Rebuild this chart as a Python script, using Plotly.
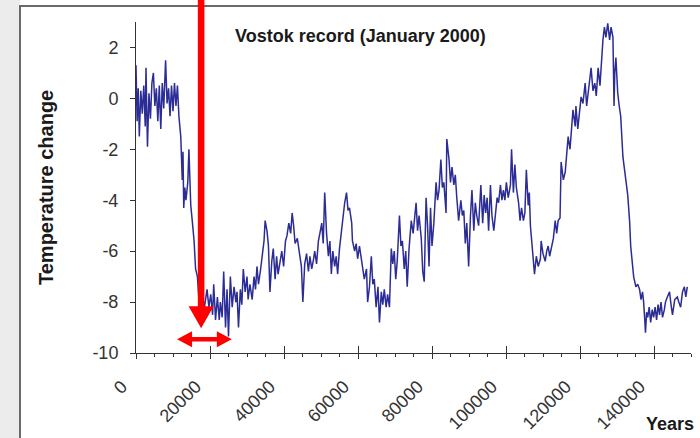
import plotly.graph_objects as go

# ---- data (years before present, temperature change in deg C) ----
years = [0, 300, 600, 900, 1300, 1700, 2100, 2500, 2700, 3100, 3500, 3900, 4300, 4700, 5100, 5500,
         5900, 6300, 6700, 7100, 7500, 8000, 8400, 8800, 9200, 9600, 10000, 10400, 10800, 11200, 11600,
         12100, 12500, 12700, 12900, 13200, 13500, 14000, 14300, 14800, 15200, 15700, 16100, 16600,
         17000, 17500, 18000, 18500, 19200, 19700, 20200, 20700, 21000, 21500, 22000, 22500, 22800,
         23300, 23700, 24200, 24600, 25000, 25500, 26000, 26500, 27000, 27300, 27700, 28200, 28600,
         29000, 29500, 30000, 30300, 30800, 31400, 31900, 32300, 32700, 33100, 33600, 34100, 34600,
         34900, 35400, 35800, 36200, 36700, 37100, 37600, 38000, 38400, 38900, 39400, 39900, 40400,
         40800, 41300, 41800, 42200, 42600, 43000, 43600, 44300, 44700, 45100, 45600, 46100, 46600,
         47000, 47500, 48000, 48300, 48800, 49300, 49700, 50200, 50600, 51000, 51500, 52000, 52400,
         52800, 53200, 53700, 54100, 54500, 55000, 55500, 56000, 56400, 56900, 57300, 57700, 58300,
         58500, 59100, 59500, 59900, 60400, 60900, 61200, 61700, 62300, 62600, 63100, 63600, 64000,
         64400, 64900, 65400, 65800, 66300, 66700, 67100, 67600, 68000, 68500, 69000, 69400, 69800,
         70200, 70600, 71200, 71600, 72000, 72500, 72900, 73300, 73800, 74400, 74900, 75300, 75700,
         76100, 76500, 77100, 77500, 77900, 78400, 78800, 79200, 79600, 80000, 80500, 81100, 81500,
         81900, 82400, 82800, 83200, 83800, 84000, 84600, 85000, 85400, 85900, 86300, 86700, 87200,
         87800, 88200, 88600, 89000, 89400, 89900, 90400, 90800, 91300, 91700, 92100, 92600, 93200,
         93700, 94100, 94500, 94900, 95300, 95800, 96200, 96700, 97200, 97600, 98000, 98500, 98900,
         99300, 99700, 100100, 100600, 101200, 101500, 102000, 102400, 102800, 103400, 103800, 104200,
         104700, 105100, 105500, 106000, 106300, 106600, 107000, 107400, 107700, 108200, 108700,
         109300, 109500, 110000, 110600, 111000, 111400, 111800, 112200, 112800, 113300, 113700,
         114100, 114600, 114900, 115500, 116000, 116300, 116800, 117300, 117600, 118100, 118700,
         118900, 119400, 120000, 120300, 120800, 121400, 121800, 122200, 122600, 123000, 123500,
         124000, 124400, 124900, 125400, 125800, 126200, 126600, 127000, 127500, 128000, 128400,
         128900, 129200, 129400, 129700, 130000, 130200, 130600, 131000, 131600, 132000, 132400,
         132900, 133400, 133700, 134100, 134500, 135100, 135600, 136100, 136500, 136900, 137200,
         137500, 137700, 138000, 138300, 138700, 139100, 139500, 139900, 140300, 140700, 141100,
         141500, 141900, 142300, 142800, 143100, 143600, 144200, 144600, 145000, 145600, 146300,
         146700, 147200, 147700, 148200, 148600, 149000]

temps = [1.3, -0.9, 0.4, -1.5, 0.3, -0.6, 0.5, -1.1, 1.2, -1.9, 0.2, -0.8, 0.6, 1.0, -0.3, 0.4,
         -0.9, 0.5, -1.2, 0.6, -0.4, 1.5, -0.2, 0.4, -0.7, 0.5, -0.5, 0.6, -0.3, 0.5, -0.7,
         -1.5, -3.2, -2.1, -4.3, -3.5, -4.0, -3.3, -2.0, -4.2, -4.8, -5.6, -6.7, -7.0,
         -7.9, -8.3, -7.8, -8.2, -7.5, -8.2, -7.7, -8.5, -7.3, -8.7, -7.8, -8.7, -8.0,
         -8.6, -6.8, -9.0, -7.5, -9.35, -7.0, -8.2, -7.4, -8.0, -7.6, -9.0, -7.5, -8.1,
         -6.7, -7.6, -7.0, -7.9, -7.3, -7.9, -7.0, -7.5, -6.6, -7.3, -6.8, -6.3, -5.6,
         -4.8, -5.2, -5.8, -7.6, -6.4, -5.9, -7.1, -6.2, -6.9, -6.4, -6.0, -6.6, -5.6,
         -5.4, -4.9, -5.3, -4.5, -5.0, -5.7, -5.5, -6.1, -6.6, -8.0, -6.5, -6.1, -6.8,
         -6.2, -6.7, -6.3, -6.0, -6.5, -5.6, -5.3, -4.9, -5.7, -3.7, -5.3, -6.2, -5.6,
         -6.9, -6.0, -6.6, -6.2, -6.9, -5.9, -5.2, -4.6, -4.1, -3.7, -4.4, -4.3, -4.9,
         -5.6, -6.0, -5.7, -6.3, -5.8, -6.3, -6.6, -7.1, -6.7, -8.0, -7.4, -6.2, -7.3,
         -7.1, -8.2, -7.4, -8.8, -7.6, -8.1, -7.5, -8.2, -7.7, -8.2, -5.9, -6.5, -6.0,
         -7.1, -6.4, -4.6, -5.8, -5.6, -6.7, -6.0, -7.4, -5.9, -4.8, -5.3, -4.6, -4.1,
         -5.2, -4.6, -5.5, -6.8, -7.2, -3.9, -5.0, -6.6, -4.3, -5.8, -4.9, -3.3, -4.0,
         -3.6, -2.4, -3.5, -3.3, -4.5, -1.6, -2.4, -3.3, -2.7, -3.4, -3.0, -3.9, -4.8,
         -4.0, -4.6, -4.4, -5.7, -4.9, -6.6, -4.6, -3.6, -5.2, -4.1, -4.6, -5.0, -3.4,
         -4.9, -3.8, -4.5, -3.9, -5.2, -3.4, -4.6, -5.2, -4.4, -3.9, -4.1, -3.4, -4.0,
         -3.6, -4.0, -3.3, -3.9, -3.4, -2.0, -3.7, -2.6, -3.5, -4.1, -4.8, -4.3,
         -4.8, -4.5, -2.8, -4.2, -3.7, -5.0, -5.8, -6.6, -6.9, -6.2, -6.6,
         -6.3, -5.6, -6.1, -6.4, -6.0, -5.8, -6.2, -5.9, -5.5, -4.8, -5.3,
         -4.8, -4.7, -2.5, -3.2, -2.9, -2.2, -1.5, -2.0, -1.5, -0.45, -1.1,
         -0.3, -1.2, -0.5, 0.06, -0.2, 0.6, -0.3, 0.3, 0.7, 1.2, 0.3,
         0.6, 0.1, 1.2, 0.5, 1.5, 2.3, 2.8, 2.4, 2.95, 2.3, 2.8,
         2.4, -0.3, 1.0, 1.6, 0.5, 0.2, -0.3, -0.7, -2.3, -2.7, -3.3,
         -3.8, -4.8, -5.8, -6.4, -7.0, -7.4, -7.3, -7.5, -7.9, -7.6, -8.0,
         -8.7, -9.2, -8.4, -8.6, -8.2, -8.8, -8.3, -8.6, -8.2, -8.7, -8.1,
         -8.5, -8.0, -8.6, -8.3, -8.0, -7.8, -7.6, -8.1, -8.5, -7.9, -7.8,
         -8.0, -8.2, -7.6, -7.4, -7.8, -7.4]

x_range = [0, 150000]
y_range = [-10, 3]
x_ticks = [0, 20000, 40000, 60000, 80000, 100000, 120000, 140000]
x_labels = ["0", "20000", "40000", "60000", "80000", "100000", "120000", "140000"]
y_ticks = [-10, -8, -6, -4, -2, 0, 2]
y_labels = ["-10", "-8", "-6", "-4", "-2", "0", "2"]

# arrows annotation anchors (data units)
arrow_x = 17600
arrow_tip_y = -9.03
span_x = [11100, 25900]
span_y = -9.46

# ---- layout geometry (pixels) ----
FW, FH = 700, 438
L, R, T, B = 136, 9, 22, 85
PW, PH = FW - L - R, FH - T - B

def pxp(px, py):
    return ((px - L) / PW, (T + PH - py) / PH)

def dxp(xd):
    return (xd - x_range[0]) / (x_range[1] - x_range[0])

def dyp(yd):
    return (yd - y_range[0]) / (y_range[1] - y_range[0])

FONT = "Liberation Sans, Arial, sans-serif"
RED = "#ff0000"
AX = "#333333"

fig = go.Figure()
fig.add_trace(go.Scatter(x=years, y=temps, mode="lines",
                         line=dict(color="#2c2c96", width=1.5),
                         hoverinfo="skip", showlegend=False))
# carrier for the overlaid axis that draws the inner half of the major x ticks
fig.add_trace(go.Scatter(x=years[:1], y=temps[:1], xaxis="x2", yaxis="y", mode="markers",
                         marker=dict(opacity=0), hoverinfo="skip", showlegend=False))

shapes = []
x0, y0 = pxp(0, 0); x1, y1 = pxp(20, FH)
shapes.append(dict(type="rect", xref="paper", yref="paper", x0=x0, y0=y0, x1=x1, y1=y1,
                   fillcolor="#ececec", line=dict(width=0), layer="below"))
fx0, fy0 = pxp(20, 6); fx1, fy1 = pxp(FW + 5, FH + 5)
shapes.append(dict(type="rect", xref="paper", yref="paper", x0=fx0, y0=fy0, x1=fx1, y1=fy1,
                   fillcolor="rgba(0,0,0,0)", line=dict(color="#6a6a6a", width=2)))

# vertical red arrow
ax, ay = dxp(arrow_x), dyp(arrow_tip_y)
hw, sw, hl = 12.5 / PW, 3.3 / PW, 22 / PH
top = (T + PH) / PH
path_v = (f"M {ax-sw},{top} L {ax+sw},{top} L {ax+sw},{ay+hl} L {ax+hw},{ay+hl} "
          f"L {ax},{ay} L {ax-hw},{ay+hl} L {ax-sw},{ay+hl} Z")
shapes.append(dict(type="path", xref="paper", yref="paper", path=path_v,
                   fillcolor=RED, line=dict(width=0)))

# horizontal double-headed arrow
hx0, hx1, hy = dxp(span_x[0]), dxp(span_x[1]), dyp(span_y)
hlx, hhy, shy = 15 / PW, 8 / PH, 2.2 / PH
path_h = (f"M {hx0},{hy} L {hx0+hlx},{hy+hhy} L {hx0+hlx},{hy+shy} L {hx1-hlx},{hy+shy} "
          f"L {hx1-hlx},{hy+hhy} L {hx1},{hy} L {hx1-hlx},{hy-hhy} L {hx1-hlx},{hy-shy} "
          f"L {hx0+hlx},{hy-shy} L {hx0+hlx},{hy-hhy} Z")
shapes.append(dict(type="path", xref="paper", yref="paper", path=path_h,
                   fillcolor=RED, line=dict(width=0)))

annotations = []
tx, ty = pxp(360, 36)
annotations.append(dict(text="<b>Vostok record (January 2000)</b>", xref="paper", yref="paper",
                        x=tx, y=ty, xanchor="center", yanchor="middle", showarrow=False,
                        font=dict(family=FONT, size=18, color="#1a1a1a")))
yx, yy = pxp(46, 188)
annotations.append(dict(text="<b>Temperature change</b>", xref="paper", yref="paper",
                        x=yx, y=yy, xanchor="center", yanchor="middle", showarrow=False,
                        textangle=-90, font=dict(family=FONT, size=20, color="#1a1a1a")))
ex, ey = pxp(670, 424)
annotations.append(dict(text="<b>Years</b>", xref="paper", yref="paper",
                        x=ex, y=ey, xanchor="center", yanchor="middle", showarrow=False,
                        font=dict(family=FONT, size=18, color="#1a1a1a")))

fig.update_layout(
    width=FW, height=FH,
    margin=dict(l=L, r=R, t=T, b=B, autoexpand=False),
    paper_bgcolor="white", plot_bgcolor="white",
    showlegend=False,
    font=dict(family=FONT, color=AX),
    shapes=shapes, annotations=annotations,
    xaxis=dict(range=x_range, tickmode="array", tickvals=x_ticks, ticktext=x_labels,
               tickangle=-45, ticklabelstandoff=10, ticklabelshift=-14, automargin=False,
               tickfont=dict(size=18, color=AX),
               showgrid=False, zeroline=False, showline=True, linecolor=AX, linewidth=1,
               ticks="outside", ticklen=5, tickcolor=AX,
               minor=dict(ticks="outside", ticklen=3, dtick=5000, tick0=0, tickcolor=AX,
                          showgrid=False)),
    xaxis2=dict(range=x_range, overlaying="x", anchor="y", matches="x", tickmode="array",
                tickvals=x_ticks, showticklabels=False, ticks="inside", ticklen=7,
                tickcolor=AX, showgrid=False, zeroline=False, showline=False, side="bottom"),
    yaxis=dict(range=y_range, tickmode="array", tickvals=y_ticks, ticktext=y_labels,
               ticklabelstandoff=8, automargin=False,
               tickfont=dict(size=18, color=AX),
               showgrid=False, zeroline=False, showline=True, linecolor=AX, linewidth=1,
               ticks="outside", ticklen=5, tickcolor=AX),
)

fig.write_html("out.html")
